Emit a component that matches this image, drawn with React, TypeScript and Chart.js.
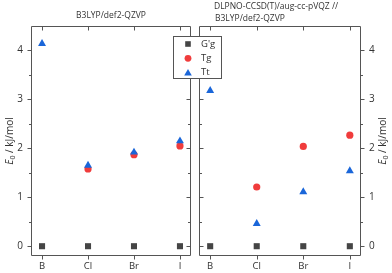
import React, { useEffect, useRef } from 'react';
import { Chart, registerables } from 'chart.js';

Chart.register(...registerables);

const W = 392;
const H = 273;

const categories = ['B', 'Cl', 'Br', 'I'];
const yMajorTicks = [0, 1, 2, 3, 4];
const yMinorTicks = [0.5, 1.5, 2.5, 3.5];
const seriesNames = ["G'g", 'Tg', 'Tt'];

const b3lypGg = [0, 0, 0, 0];
const b3lypTg = [null, 1.58, 1.87, 2.05];
const b3lypTt = [4.14, 1.65, 1.92, 2.15];

const dlpnoGg = [0, 0, 0, 0];
const dlpnoTg = [null, 1.21, 2.04, 2.27];
const dlpnoTt = [3.18, 0.46, 1.11, 1.54];

const leftTitle = ['B3LYP/def2-QZVP'];
const rightTitle = ['DLPNO-CCSD(T)/aug-cc-pVQZ //', 'B3LYP/def2-QZVP'];

const COLORS = { gg: '#454545', tg: '#f03c3c', tt: '#1a66d9' };
const FONT = '"Open Sans", "DejaVu Sans", sans-serif';
const AXIS = '#555555';
const TEXT = '#333333';

Chart.defaults.font.family = FONT;

function toPoints(arr: (number | null)[]) {
  const out: { x: number; y: number }[] = [];
  arr.forEach((v, i) => {
    if (v !== null && v !== undefined) out.push({ x: i, y: v });
  });
  return out;
}

function makeDatasets(gg: (number | null)[], tg: (number | null)[], tt: (number | null)[]) {
  return [
    {
      label: seriesNames[2],
      data: toPoints(tt),
      pointStyle: 'triangle',
      pointRadius: 4.6,
      backgroundColor: COLORS.tt,
      borderColor: COLORS.tt,
      borderWidth: 0,
    },
    {
      label: seriesNames[1],
      data: toPoints(tg),
      pointStyle: 'circle',
      pointRadius: 3.6,
      backgroundColor: COLORS.tg,
      borderColor: COLORS.tg,
      borderWidth: 0,
    },
    {
      label: seriesNames[0],
      data: toPoints(gg),
      pointStyle: 'rect',
      pointRadius: 4.3,
      backgroundColor: COLORS.gg,
      borderColor: COLORS.gg,
      borderWidth: 0,
    },
  ];
}

function drawYLabel(ctx: CanvasRenderingContext2D, x: number, yc: number) {
  ctx.save();
  ctx.translate(x, yc);
  ctx.rotate(-Math.PI / 2);
  ctx.fillStyle = TEXT;
  ctx.textBaseline = 'middle';
  ctx.textAlign = 'left';
  const fIt = `italic 10px ${FONT}`;
  const fSub = `7px ${FONT}`;
  const fN = `10px ${FONT}`;
  ctx.font = fIt;
  const wE = ctx.measureText('E').width;
  ctx.font = fSub;
  const w0 = ctx.measureText('0').width;
  ctx.font = fN;
  const rest = ' / kJ/mol';
  const wR = ctx.measureText(rest).width;
  let sx = -(wE + w0 + wR) / 2;
  ctx.font = fIt;
  ctx.fillText('E', sx, 0);
  sx += wE;
  ctx.font = fSub;
  ctx.fillText('0', sx, 3);
  sx += w0;
  ctx.font = fN;
  ctx.fillText(rest, sx, 0);
  ctx.restore();
}

function drawMarker(ctx: CanvasRenderingContext2D, style: string, x: number, y: number, color: string) {
  ctx.fillStyle = color;
  ctx.beginPath();
  if (style === 'rect') {
    ctx.rect(x - 2.8, y - 2.8, 5.6, 5.6);
  } else if (style === 'circle') {
    ctx.arc(x, y, 3.4, 0, Math.PI * 2);
  } else {
    const r = 4.4;
    ctx.moveTo(x, y - r);
    ctx.lineTo(x + r * 0.866, y + r * 0.5);
    ctx.lineTo(x - r * 0.866, y + r * 0.5);
    ctx.closePath();
  }
  ctx.fill();
}

const decorPlugin = {
  id: 'decor',
  beforeDatasetsDraw(chart: any, _args: any, o: any) {
    const { ctx, chartArea: a, scales } = chart;
    const xs = scales.x;
    const ys = scales.y;
    const L = Math.round(a.left) + 0.5;
    const R = Math.round(a.right) - 0.5;
    const T = Math.round(a.top) + 0.5;
    const B = Math.round(a.bottom) - 0.5;
    ctx.save();
    ctx.strokeStyle = AXIS;
    ctx.lineWidth = 1;
    ctx.beginPath();
    ctx.rect(L, T, R - L, B - T);
    ctx.stroke();
    ctx.beginPath();
    const yTick = (v: number, len: number) => {
      const py = Math.round(ys.getPixelForValue(v)) + 0.5;
      if (o.side === 'left') {
        ctx.moveTo(L - len, py);
        ctx.lineTo(L, py);
        ctx.moveTo(R, py);
        ctx.lineTo(R - len, py);
      } else {
        ctx.moveTo(R + len, py);
        ctx.lineTo(R, py);
        ctx.moveTo(L, py);
        ctx.lineTo(L + len, py);
      }
    };
    yMajorTicks.forEach((v) => yTick(v, 4));
    yMinorTicks.forEach((v) => yTick(v, 2.5));
    categories.forEach((_c, i) => {
      const px = Math.round(xs.getPixelForValue(i)) + 0.5;
      ctx.moveTo(px, T);
      ctx.lineTo(px, T + 4);
      ctx.moveTo(px, B);
      ctx.lineTo(px, B + 4);
    });
    ctx.stroke();
    ctx.restore();
  },
  afterDraw(chart: any, _args: any, o: any) {
    const { ctx, chartArea: a } = chart;
    ctx.save();
    // y-axis title
    drawYLabel(ctx, o.side === 'left' ? 10 : 383, (a.top + a.bottom) / 2);
    // panel title
    ctx.fillStyle = TEXT;
    ctx.font = `8.5px ${FONT}`;
    ctx.textBaseline = 'middle';
    if (o.titleAlign === 'center') {
      ctx.textAlign = 'center';
      o.title.forEach((t: string, i: number) => ctx.fillText(t, (a.left + a.right) / 2, o.titleY + i * 11.5));
    } else {
      ctx.textAlign = 'left';
      o.title.forEach((t: string, i: number) => ctx.fillText(t, o.titleX + (i === 0 ? -1 : 0), o.titleY + i * 11.5));
    }
    // legend
    if (o.legend) {
      const lx = 173.5, ly = 36.5, lw = 48, lh = 42;
      ctx.fillStyle = '#ffffff';
      ctx.fillRect(lx, ly, lw, lh);
      ctx.strokeStyle = AXIS;
      ctx.lineWidth = 1;
      ctx.strokeRect(lx, ly, lw, lh);
      const styles = ['rect', 'circle', 'triangle'];
      const cols = [COLORS.gg, COLORS.tg, COLORS.tt];
      seriesNames.forEach((name, i) => {
        const yy = 44 + i * 14.3;
        drawMarker(ctx, styles[i], 188, yy + (i === 2 ? 0.8 : 0), cols[i]);
        ctx.fillStyle = TEXT;
        ctx.font = `9.5px ${FONT}`;
        ctx.textAlign = 'left';
        ctx.textBaseline = 'middle';
        ctx.fillText(name, 201, yy);
      });
    }
    ctx.restore();
  },
};

function makeConfig(side: 'left' | 'right', gg: any[], tg: any[], tt: any[], title: string[]) {
  const isLeft = side === 'left';
  return {
    type: 'scatter' as const,
    data: { datasets: makeDatasets(gg, tg, tt) },
    options: {
      responsive: false,
      animation: false,
      events: [],
      layout: {
        padding: isLeft
          ? { left: 0, right: W - 191, top: 26, bottom: 0 }
          : { left: 199, right: 0, top: 26, bottom: 0 },
      },
      scales: {
        x: {
          type: 'linear',
          min: -0.24,
          max: 3.24,
          afterBuildTicks: (s: any) => {
            s.ticks = categories.map((_c, i) => ({ value: i }));
          },
          afterFit: (s: any) => {
            s.height = 17;
          },
          grid: { display: false, drawTicks: false },
          border: { display: false },
          ticks: {
            padding: 5,
            color: TEXT,
            font: { size: 9.5, family: FONT },
            maxRotation: 0,
            autoSkip: false,
            callback: (v: any) => categories[Math.round(Number(v))] ?? '',
          },
        },
        y: {
          type: 'linear',
          position: side,
          min: -0.2,
          max: 4.5,
          afterBuildTicks: (s: any) => {
            s.ticks = yMajorTicks.map((v) => ({ value: v }));
          },
          afterFit: (s: any) => {
            s.width = 31;
          },
          grid: { display: false, drawTicks: false },
          border: { display: false },
          ticks: {
            padding: 8,
            color: TEXT,
            font: { size: 10, family: FONT },
            autoSkip: false,
            callback: (v: any) => String(v),
          },
        },
      },
      plugins: {
        legend: { display: false },
        tooltip: { enabled: false },
        decor: {
          side,
          title,
          titleAlign: isLeft ? 'center' : 'left',
          titleX: 215,
          titleY: isLeft ? 16 : 7,
          legend: !isLeft,
        },
      },
    },
    plugins: [decorPlugin],
  };
}

export default function App() {
  const leftRef = useRef<HTMLCanvasElement>(null);
  const rightRef = useRef<HTMLCanvasElement>(null);

  useEffect(() => {
    const c1 = new Chart(leftRef.current as HTMLCanvasElement, makeConfig('left', b3lypGg, b3lypTg, b3lypTt, leftTitle) as any);
    const c2 = new Chart(rightRef.current as HTMLCanvasElement, makeConfig('right', dlpnoGg, dlpnoTg, dlpnoTt, rightTitle) as any);
    return () => {
      c1.destroy();
      c2.destroy();
    };
  }, []);

  const cstyle: React.CSSProperties = { position: 'absolute', left: 0, top: 0, width: W, height: H };
  return (
    <div style={{ position: 'absolute', left: 0, top: 0, width: W, height: H, background: '#ffffff' }}>
      <canvas ref={leftRef} width={W} height={H} style={cstyle} />
      <canvas ref={rightRef} width={W} height={H} style={cstyle} />
    </div>
  );
}
